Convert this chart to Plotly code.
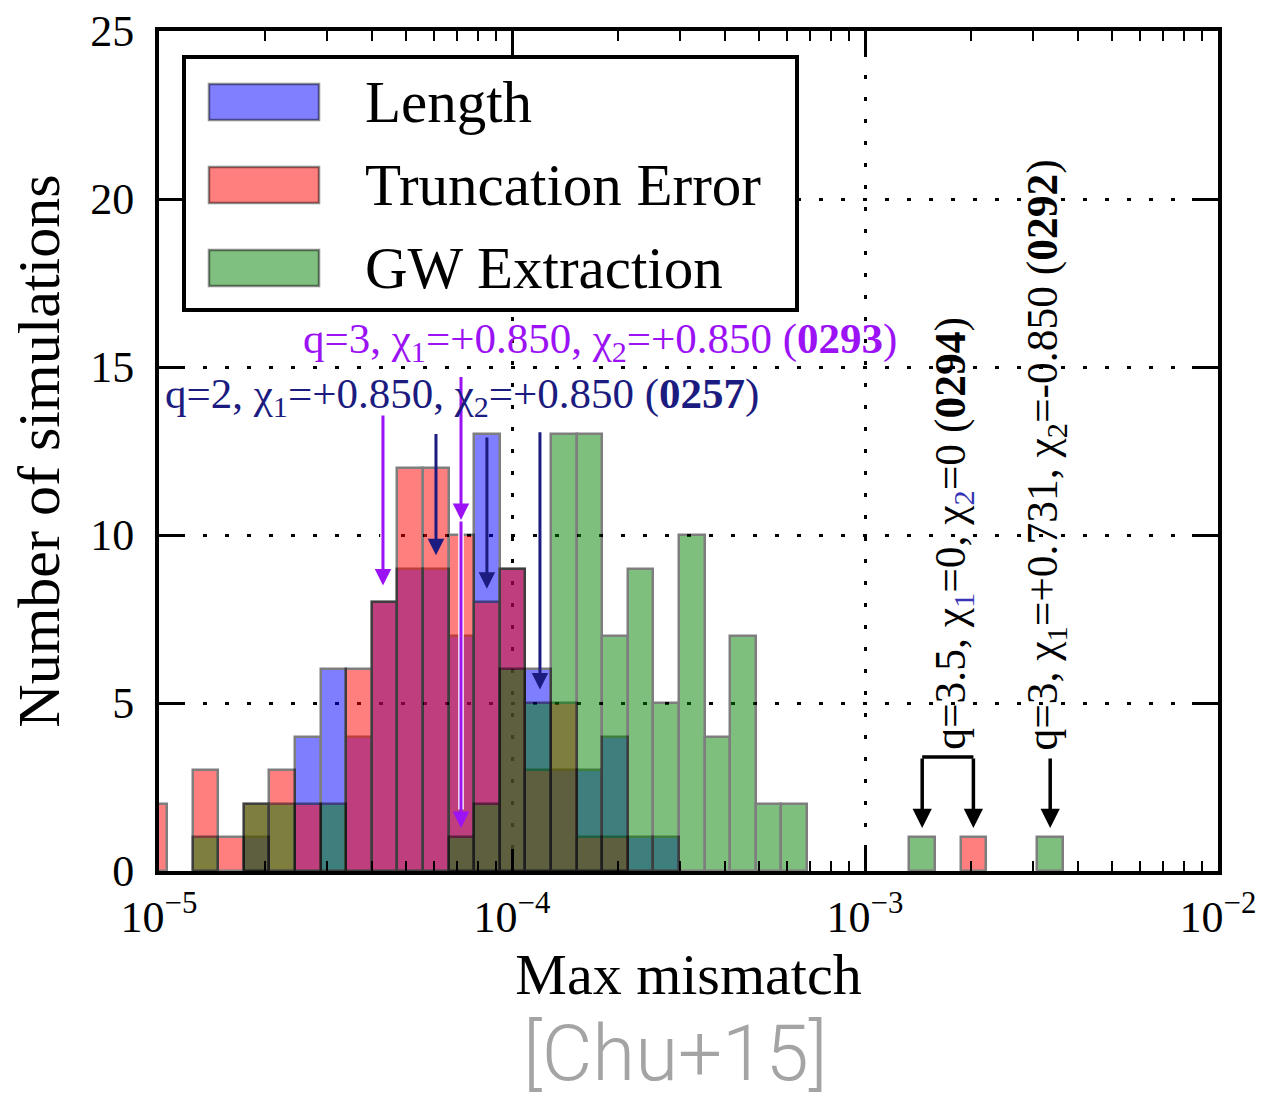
import numpy as np
import plotly.graph_objects as go

# ---------------- data ----------------
# histogram bins (log10 of max mismatch), equal width in log space
BIN_LOG_MIN = -5.0498
BIN_LOG_MAX = -2.4391
N_BINS = 36

length_counts = [0, 0, 0, 0, 1, 0, 4, 6, 4, 8, 9, 9, 7, 13, 9, 6, 3, 3, 4, 1, 1,
                 0, 0, 0, 0, 0, 0, 0, 0, 0, 0, 0, 0, 0, 0, 0]
truncation_counts = [2, 0, 3, 1, 2, 3, 2, 0, 6, 8, 12, 12, 10, 8, 9, 3, 5, 1, 1,
                     0, 0, 0, 0, 0, 0, 0, 0, 0, 0, 0, 0, 0, 1, 0, 0, 0]
gw_counts = [0, 0, 1, 0, 2, 2, 0, 2, 0, 0, 0, 0, 1, 2, 6, 5, 13, 13, 7, 9, 5, 10,
             4, 7, 2, 2, 0, 0, 0, 0, 1, 0, 0, 0, 0, 1]

series_names = ["Length", "Truncation Error", "GW Extraction"]
series_counts = [length_counts, truncation_counts, gw_counts]
series_colors = ["#0000ff", "#ff0000", "#008000"]

x_tick_exponents = [-5, -4, -3, -2]
y_tick_values = [0, 5, 10, 15, 20, 25]

# annotated simulations: arrow (mismatch, tip count, tail count)
purple_arrows = [(4.31e-5, 8.5, 13.6), (7.17e-5, 10.45, 14.75), (7.17e-5, 1.28, 10.45)]
navy_arrows = [(6.09e-5, 9.4, 13.05), (8.49e-5, 8.4, 12.95), (1.20e-4, 5.4, 13.1)]
purple_label = ("q=3, χ<sub>1</sub>=+0.850, χ<sub>2</sub>=+0.850 (<b>0293</b>)", 1.775e-4, 15.75)
navy_label = ("q=2, χ<sub>1</sub>=+0.850, χ<sub>2</sub>=+0.850 (<b>0257</b>)", 7.2e-5, 14.1)
label_0294 = "q=3.5, χ<sub><span style='color:#3535b5'>1</span></sub>=0, χ<sub><span style='color:#3535b5'>2</span></sub>=0 (<b>0294</b>)"
label_0292 = "q=3, χ<sub>1</sub>=+0.731, χ<sub>2</sub>=-0.850 (<b>0292</b>)"
outlier_bins = [30, 32, 35]   # bins holding the outlier simulations

# ---------------- derived ----------------
edges = np.linspace(BIN_LOG_MIN, BIN_LOG_MAX, N_BINS + 1)
centers = 0.5 * (edges[:-1] + edges[1:])
bin_w = edges[1] - edges[0]

W, H = 1266, 1100
ML, MR, MT, MB = 159, 48, 31, 229
PW, PH = W - ML - MR, H - MT - MB

def px2paper_x(px):
    return (px - ML) / PW

def px2paper_y(py):
    return (H - MB - py) / PH

SERIF = "Liberation Serif, Times New Roman, serif"
PURPLE = "#9b12f5"
NAVY = "#1b1b80"

fig = go.Figure()
for name, counts, color in zip(series_names, series_counts, series_colors):
    xs = [c for c, v in zip(centers, counts) if v > 0]
    ys = [v for v in counts if v > 0]
    fig.add_trace(go.Bar(
        x=xs, y=ys, width=bin_w, name=name, opacity=0.5,
        marker=dict(color=color, line=dict(color="black", width=2.5)),
        showlegend=False,
    ))

minor_vals = [np.log10(k * 10.0 ** e) for e in range(-5, -2) for k in range(2, 10)]

fig.update_layout(
    template="none",
    width=W, height=H,
    margin=dict(l=ML, r=MR, t=MT, b=MB),
    paper_bgcolor="white", plot_bgcolor="white",
    barmode="overlay", bargap=0,
    font=dict(family=SERIF, color="black"),
    xaxis=dict(
        range=[-5, -2], tickmode="array", tickvals=x_tick_exponents,
        ticktext=[f"10<sup>−{abs(e)}</sup>" for e in x_tick_exponents],
        ticks="inside", ticklen=22, tickwidth=2.5, tickcolor="black",
        showline=True, linewidth=4, linecolor="black", mirror="ticks",
        showgrid=True, gridcolor="black", gridwidth=2.5, griddash="4px,18px",
        zeroline=False, automargin=False,
        tickfont=dict(family=SERIF, size=44),
        ticklabelstandoff=4,
        minor=dict(tickmode="array", tickvals=minor_vals, ticks="inside",
                   ticklen=10, tickwidth=2, tickcolor="black", showgrid=False),
        title=dict(text="Max mismatch", font=dict(family=SERIF, size=58), standoff=14),
    ),
    yaxis=dict(
        range=[0, 25], tickmode="array", tickvals=y_tick_values,
        ticks="inside", ticklen=26, tickwidth=2.5, tickcolor="black",
        showline=True, linewidth=4, linecolor="black", mirror="ticks",
        showgrid=True, gridcolor="black", gridwidth=2.5, griddash="4px,18px",
        zeroline=False, automargin=False,
        tickfont=dict(family=SERIF, size=44),
        ticklabelstandoff=12,
        title=dict(text="Number of simulations", font=dict(family=SERIF, size=60), standoff=12),
    ),
)

shapes = []
annotations = []

# ---- custom legend ----
shapes.append(dict(type="rect", xref="paper", yref="paper",
                   x0=px2paper_x(184), x1=px2paper_x(797), y0=px2paper_y(57), y1=px2paper_y(310),
                   fillcolor="white", line=dict(color="black", width=4), layer="above"))
legend_rows = [102, 185, 268]
for name, color, yc in zip(series_names, series_colors, legend_rows):
    r, g, b = int(color[1:3], 16), int(color[3:5], 16), int(color[5:7], 16)
    shapes.append(dict(type="rect", xref="paper", yref="paper",
                       x0=px2paper_x(209), x1=px2paper_x(319),
                       y0=px2paper_y(yc - 18), y1=px2paper_y(yc + 18),
                       fillcolor=f"rgba({r},{g},{b},0.5)",
                       line=dict(color="rgba(0,0,0,0.45)", width=2.5), layer="above"))
    annotations.append(dict(text=name, xref="paper", yref="paper",
                            x=px2paper_x(363), y=px2paper_y(yc), xanchor="left", yanchor="middle",
                            showarrow=False, font=dict(family=SERIF, size=59, color="black")))

def add_arrow(x_log, y_tip, y_tail, color, width, outline=False):
    if outline:
        # white halo along the shaft only
        annotations.append(dict(x=x_log, y=y_tip + 0.55, ax=x_log, ay=y_tail, xref="x", yref="y",
                                axref="x", ayref="y", text="", showarrow=True, arrowhead=0,
                                arrowwidth=width + 2.5, arrowcolor="white", standoff=0))
    annotations.append(dict(x=x_log, y=y_tip, ax=x_log, ay=y_tail, xref="x", yref="y",
                            axref="x", ayref="y", text="", showarrow=True, arrowhead=2,
                            arrowsize=1.1, arrowwidth=width, arrowcolor=color, standoff=0))

for m, tip, tail in purple_arrows:
    add_arrow(np.log10(m), tip, tail, PURPLE, 3, outline=True)
for m, tip, tail in navy_arrows:
    add_arrow(np.log10(m), tip, tail, NAVY, 3)

for (txt, m, yv), col in [(purple_label, PURPLE), (navy_label, NAVY)]:
    annotations.append(dict(text=txt, x=np.log10(m), y=yv, xref="x", yref="y",
                            xanchor="center", yanchor="middle", showarrow=False,
                            font=dict(family=SERIF, size=43, color=col)))

# ---- outliers ----
BRACKET_Y, TIP_Y = 3.39, 1.28
b30, b32, b35 = (centers[i] for i in outlier_bins)
shapes.append(dict(type="line", xref="x", yref="y", x0=b30, x1=b32, y0=BRACKET_Y, y1=BRACKET_Y,
                   line=dict(color="black", width=3.5), layer="above"))
for bx in (b30, b32, b35):
    add_arrow(bx, TIP_Y, BRACKET_Y, "black", 3.5)

annotations.append(dict(text=label_0294, x=0.5 * (b30 + b32) + 0.015, y=3.54, xref="x", yref="y",
                        xanchor="center", yanchor="bottom", textangle=-90, showarrow=False,
                        font=dict(family=SERIF, size=43.5, color="black")))
annotations.append(dict(text=label_0292, x=b35 - 0.012, y=3.54, xref="x", yref="y",
                        xanchor="center", yanchor="bottom", textangle=-90, showarrow=False,
                        font=dict(family=SERIF, size=43.5, color="black")))

# ---- source ----
annotations.append(dict(text="[Chu+15]", xref="paper", yref="paper",
                        x=px2paper_x(675), y=px2paper_y(1053), xanchor="center", yanchor="middle",
                        showarrow=False,
                        font=dict(family="Roboto, Lato, sans-serif", size=78, color="#a4a4a4", weight=300)))

fig.update_layout(shapes=shapes, annotations=annotations)
fig.write_html("out.html")
